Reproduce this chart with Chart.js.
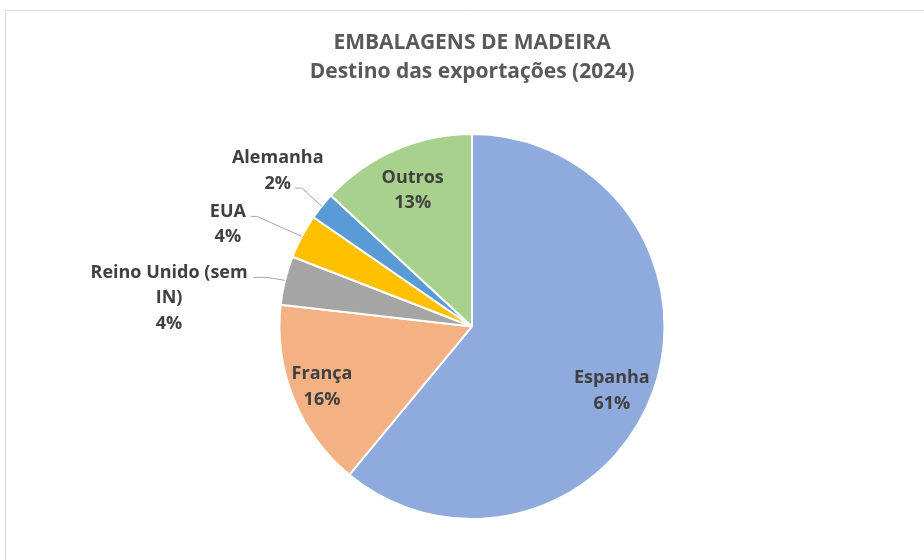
<!DOCTYPE html>
<html>
<head>
<meta charset="utf-8">
<script src="https://cdn.jsdelivr.net/npm/chart.js@4.4.1/dist/chart.umd.min.js"></script>
<style>
    html, body { margin: 0; padding: 0; background: #fff; }
    #wrap { width: 924px; height: 560px; position: relative; }
</style>
</head>
<body>
<div id="wrap"><canvas id="my_chart" width="924" height="560"></canvas></div>
<script>
(function () {
    "use strict";

    // destino das exportações, % do total
    var labels = ["Espanha", "França", "Reino Unido (sem IN)", "EUA", "Alemanha", "Outros"];
    var values = [61.0, 15.8, 4.1, 3.7, 2.3, 13.1];
    var colors = ["#8faadc", "#f4b183", "#a5a5a5", "#ffc000", "#5b9bd5", "#a9d18e"];
    var title = ["EMBALAGENS DE MADEIRA", "Destino das exportações (2024)"];

    var FONT = "'Open Sans', 'Noto Sans', sans-serif";

    // label placement (style): inside = radial factor + angle shift (deg), outside = offsets from arc edge
    var inside = { 0: { r: 0.8, da: 5 }, 1: { r: 0.84, da: 0 }, 5: { r: 0.77, da: 0 } };
    var outside = {
        2: { dx: -116, dy: 18, ex: -18, ey: -3, lx: -32, ly: -3 },
        3: { dx: -74, dy: -12, ex: -45, ey: -20, lx: -51, ly: -20 },
        4: { dx: -44, dy: -35, ex: -20, ey: -18, lx: -27, ly: -18 },
    };

    function wrap(ctx, text, maxW) {
        var words = text.split(" ");
        var lines = [];
        var cur = "";
        words.forEach(function (w) {
            var t = cur ? cur + " " + w : w;
            if (ctx.measureText(t).width > maxW && cur) {
                lines.push(cur);
                cur = w;
            } else {
                cur = t;
            }
        });
        lines.push(cur);
        return lines;
    }

    var frame = {
        id: "frame",
        beforeDraw: function (chart) {
            var ctx = chart.ctx;
            ctx.save();
            ctx.strokeStyle = "#d9d9d9";
            ctx.lineWidth = 1;
            ctx.beginPath();
            ctx.moveTo(5.5, 560);
            ctx.lineTo(5.5, 10.5);
            ctx.lineTo(924, 10.5);
            ctx.stroke();
            ctx.restore();
        },
    };

    var pieLabels = {
        id: "pieLabels",
        afterDatasetsDraw: function (chart) {
            var ctx = chart.ctx;
            var meta = chart.getDatasetMeta(0);
            var total = values.reduce(function (a, b) { return a + b; }, 0);
            var lh = 25.5;
            ctx.save();
            ctx.font = "bold 18px " + FONT;
            ctx.fillStyle = "#404040";
            ctx.textAlign = "center";
            ctx.textBaseline = "middle";
            meta.data.forEach(function (arc, i) {
                var p = arc.getProps(["x", "y", "startAngle", "endAngle", "outerRadius"], true);
                var mid = (p.startAngle + p.endAngle) / 2;
                var pct = Math.round(values[i] / total * 100) + "%";
                var lines, cx, cy;
                if (inside[i] !== undefined) {
                    var a = mid + inside[i].da * Math.PI / 180;
                    lines = [labels[i], pct];
                    cx = p.x + Math.cos(a) * p.outerRadius * inside[i].r;
                    cy = p.y + Math.sin(a) * p.outerRadius * inside[i].r;
                } else {
                    var o = outside[i];
                    var edx = p.x + Math.cos(mid) * p.outerRadius;
                    var edy = p.y + Math.sin(mid) * p.outerRadius;
                    lines = wrap(ctx, labels[i], 168).concat([pct]);
                    cx = edx + o.dx;
                    cy = edy + o.dy;
                    ctx.strokeStyle = "#a6a6a6";
                    ctx.lineWidth = 1;
                    ctx.beginPath();
                    ctx.moveTo(edx, edy);
                    ctx.lineTo(edx + o.ex, edy + o.ey);
                    ctx.lineTo(edx + o.lx, edy + o.ly);
                    ctx.stroke();
                }
                var y0 = cy - (lines.length - 1) * lh / 2;
                lines.forEach(function (t, k) {
                    ctx.fillText(t, cx, y0 + k * lh);
                });
            });
            ctx.restore();
        },
    };

    var ctx = document.getElementById("my_chart").getContext("2d");

    var myChart = new Chart(ctx, {
        type: "pie",
        data: {
            labels: labels,
            datasets: [
                {
                    data: values,
                    backgroundColor: colors,
                    borderColor: "#ffffff",
                    borderWidth: 2,
                },
            ],
        },
        options: {
            responsive: false,
            animation: false,
            layout: {
                padding: { left: 20, right: 0, top: 0, bottom: 40 },
            },
            plugins: {
                legend: { display: false },
                tooltip: { enabled: false },
                title: {
                    display: true,
                    text: title,
                    color: "#595959",
                    font: { family: FONT, size: 21, weight: "bold", lineHeight: 1.38 },
                    padding: { top: 28.5, bottom: 46.5 },
                },
            },
        },
        plugins: [frame, pieLabels],
    });
})();
</script>
</body>
</html>
